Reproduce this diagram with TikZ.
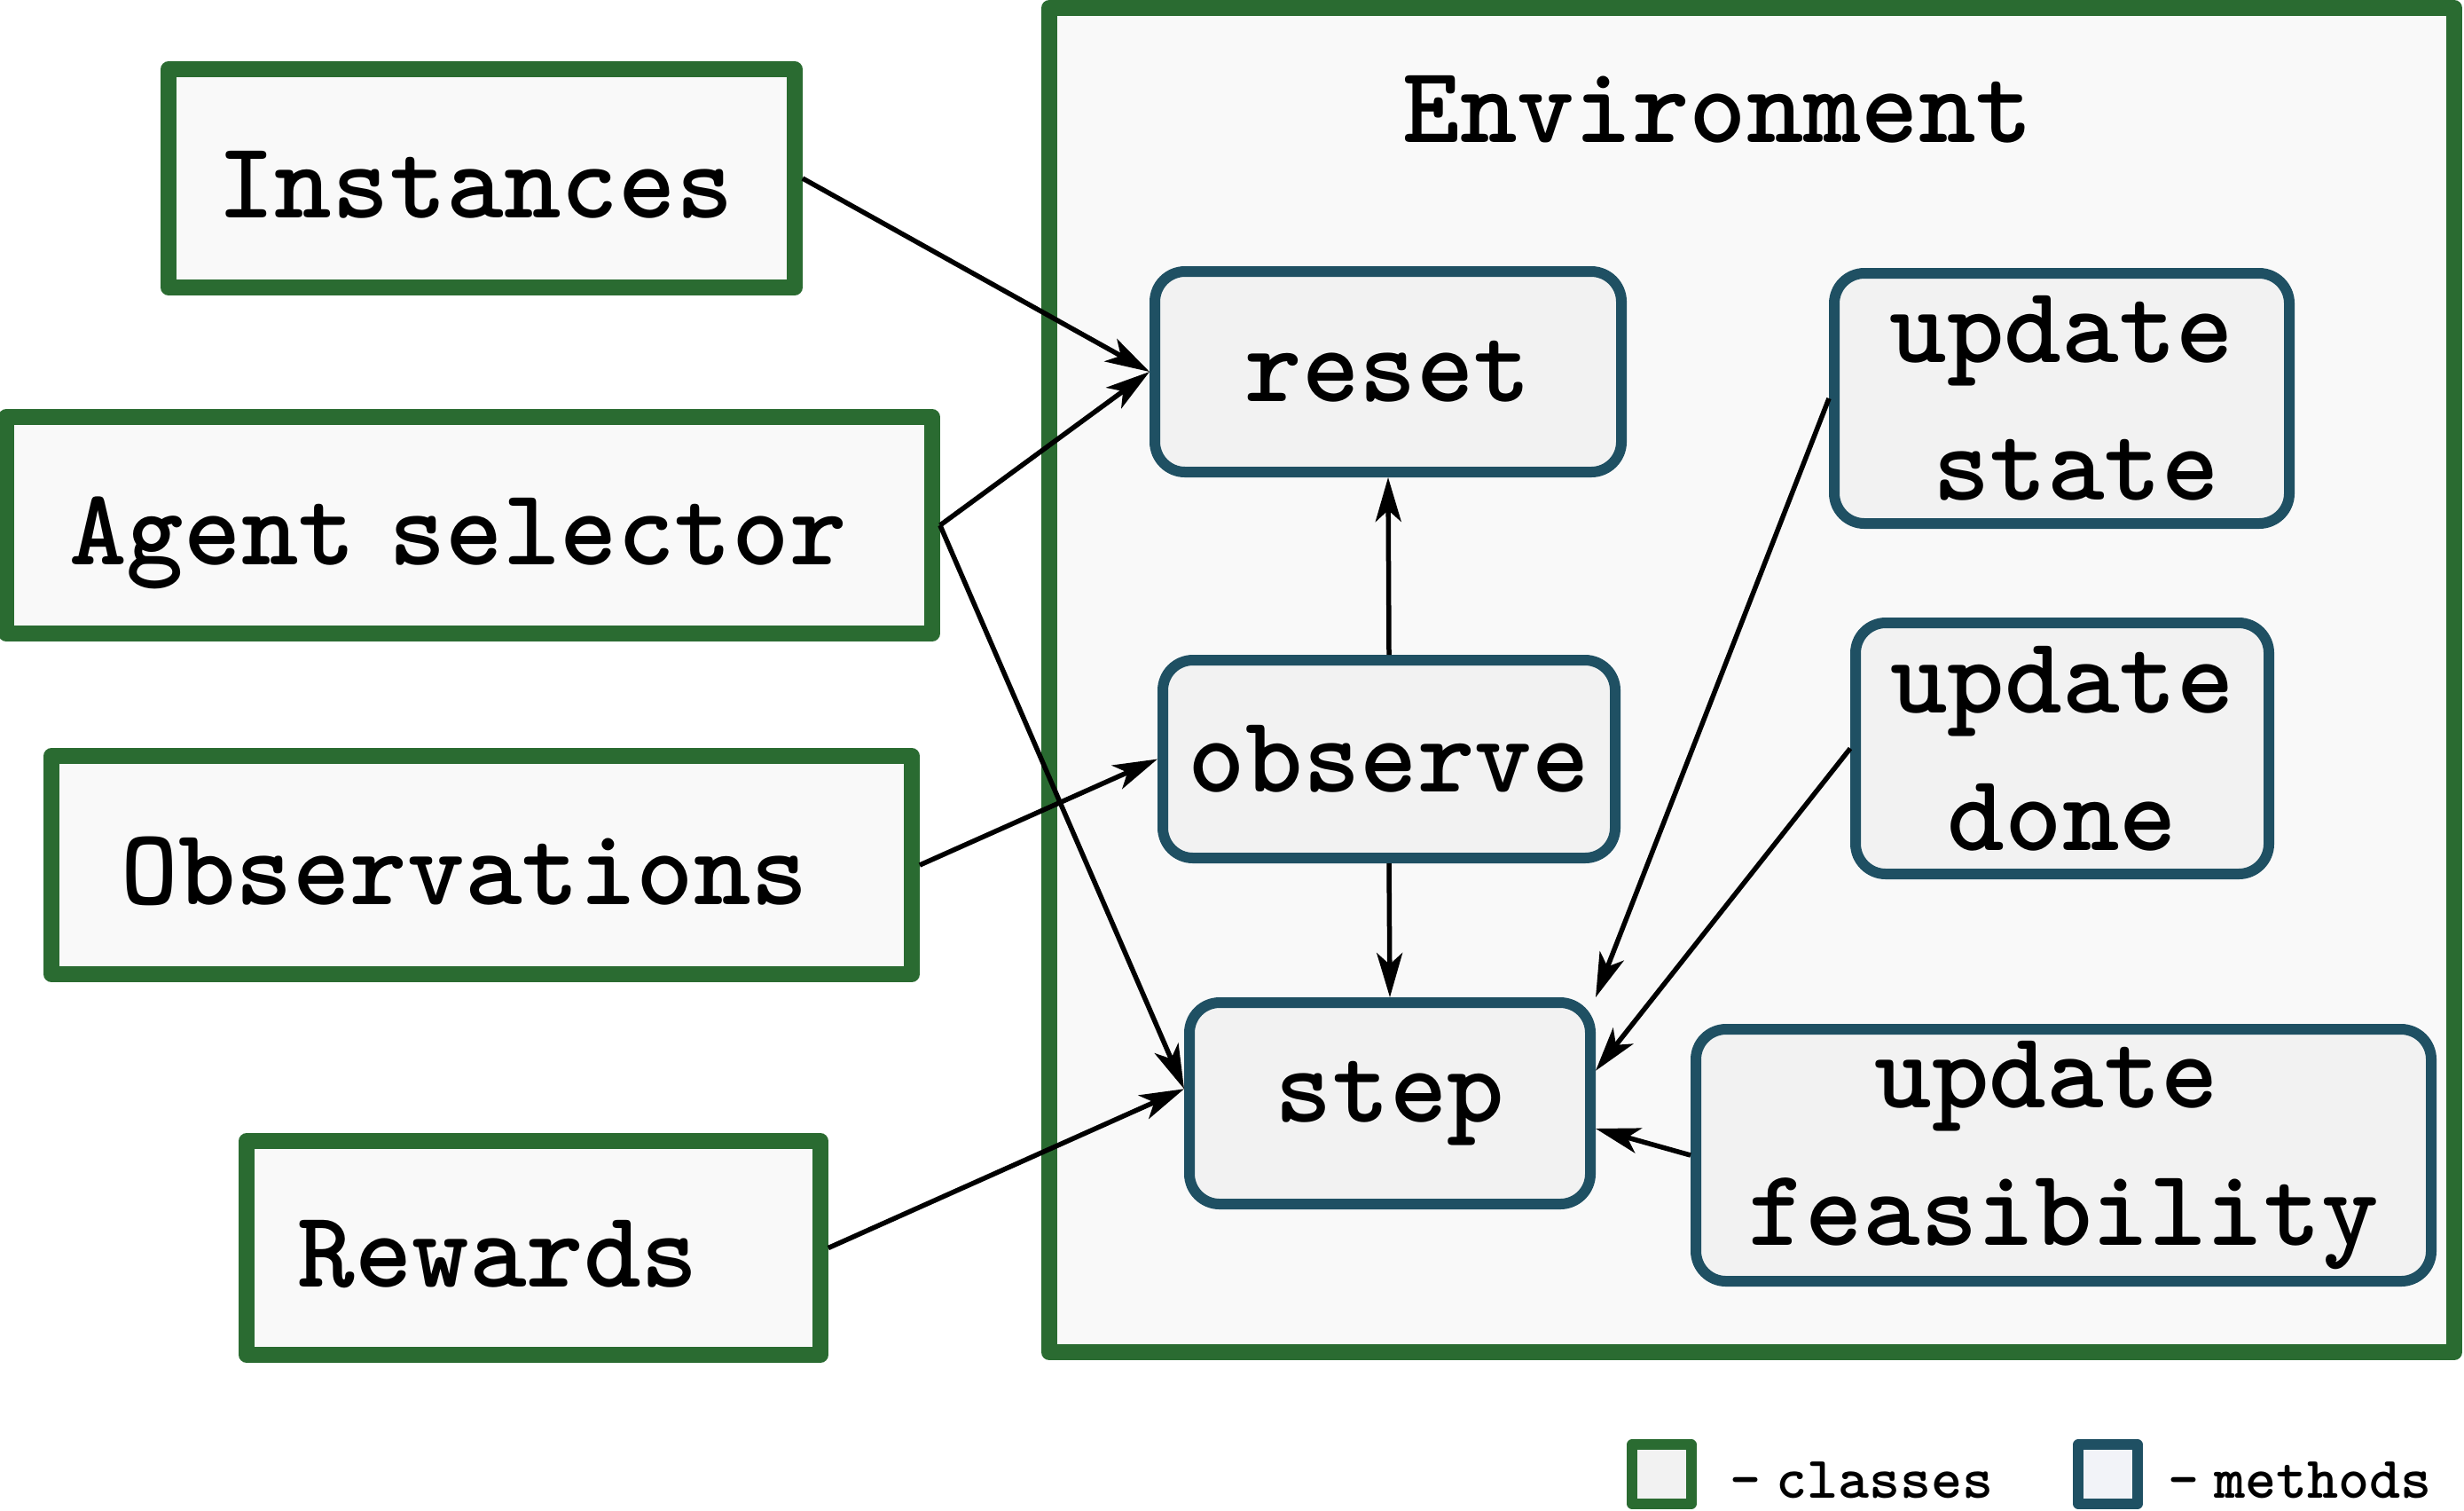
\documentclass[tikz,border=0pt]{standalone}
\usetikzlibrary{arrows.meta}
\definecolor{clsgreen}{RGB}{42,107,49}
\definecolor{methblue}{RGB}{31,80,99}
\definecolor{clsfill}{RGB}{249,249,249}
\definecolor{envfill}{RGB}{249,249,249}
\definecolor{methfill}{RGB}{242,242,242}
\definecolor{legmfill}{RGB}{242,243,248}
\newcommand{\maintt}{\ttfamily\bfseries\fontsize{35pt}{44pt}\selectfont}
\newcommand{\legtt}{\ttfamily\bfseries\fontsize{19pt}{23pt}\selectfont}
\tikzset{
  envbox/.style={draw=clsgreen, line width=0.18cm, line join=round, fill=envfill, inner sep=0pt},
  classbox/.style={draw=clsgreen, line width=0.177cm, line join=round, fill=clsfill,
    inner sep=0pt, font=\maintt, text height=0.88cm, text depth=0pt},
  methbox/.style={draw=methblue, line width=0.12cm, fill=methfill, rounded corners=0.34cm,
    inner sep=0pt, align=center, font=\maintt},
  conn/.style={-{Stealth[length=0.5cm,width=0.29cm,inset=0.13cm]}, line width=0.055cm, black},
  legcls/.style={draw=clsgreen, line width=0.12cm, line join=round, fill=methfill, inner sep=0pt},
  legmeth/.style={draw=methblue, line width=0.12cm, line join=round, fill=legmfill, inner sep=0pt},
}
\begin{document}
\begin{tikzpicture}
\useasboundingbox (0,0) rectangle (27.78,-17.02);
% environment
\node[envbox, minimum width=15.84cm, minimum height=15.15cm] (env) at (19.75,-7.665) {};
\node[anchor=base, font=\maintt, inner sep=0pt] (envlabel) at (19.37,-1.60) {Environment};
% classes
\node[classbox, minimum width=7.06cm, minimum height=2.46cm] (inst) at (5.43,-2.01) {Instances\hspace*{0.14cm}};
\node[classbox, minimum width=10.44cm, minimum height=2.44cm] (agent) at (5.29,-5.92) {Agent\hspace{0.3em}selector\hspace*{0.25cm}};
\node[classbox, minimum width=9.70cm, minimum height=2.46cm] (obs) at (5.43,-9.75) {Observations\hspace*{0.38cm}};
\node[classbox, minimum width=6.47cm, minimum height=2.41cm] (rew) at (6.015,-14.065) {Rewards\hspace*{0.8cm}};
% methods
\node[methbox, minimum width=5.26cm, minimum height=2.26cm] (reset) at (15.65,-4.19) {reset};
\node[methbox, minimum width=5.10cm, minimum height=2.23cm] (observe) at (15.66,-8.555) {observe};
\node[methbox, minimum width=4.52cm, minimum height=2.27cm] (step) at (15.67,-12.435) {step};
\node[methbox, minimum width=5.13cm, minimum height=2.82cm] (ustate) at (23.245,-4.49) {update\\\hspace*{0.32cm}state};
\node[methbox, minimum width=4.66cm, minimum height=2.83cm] (udone) at (23.25,-8.435) {update\\done};
\node[methbox, minimum width=8.29cm, minimum height=2.84cm] (ufeas) at (23.265,-13.02) {update\hspace*{0.38cm}\\feasibility};
% connectors
\draw[conn] (inst.east) -- (reset.west);
\draw[conn] (agent.east) -- (reset.west);
\draw[conn] (agent.east) -- (step.176);
\draw[conn] (obs.east) -- (observe.west);
\draw[conn] (rew.east) -- (step.176);
\draw[conn] (observe.north) -- (reset.south);
\draw[conn] (observe.south) -- (step.north);
\draw[conn] (ustate.west) -- (step.north east);
\draw[conn] (udone.west) -- (step.9);
\draw[conn] (ufeas.west) -- (step.-7);
% legend
\node[legcls, minimum width=0.665cm, minimum height=0.665cm] (legc) at (18.734,-16.615) {};
\node[anchor=base west, font=\legtt, inner sep=0pt] (legct) at (19.50,-16.88) {-\hspace{0.25em}classes};
\node[legmeth, minimum width=0.665cm, minimum height=0.665cm] (legm) at (23.765,-16.615) {};
\node[anchor=base west, font=\legtt, inner sep=0pt] (legmt) at (24.44,-16.88) {-\hspace{0.25em}methods};
\end{tikzpicture}
\end{document}
